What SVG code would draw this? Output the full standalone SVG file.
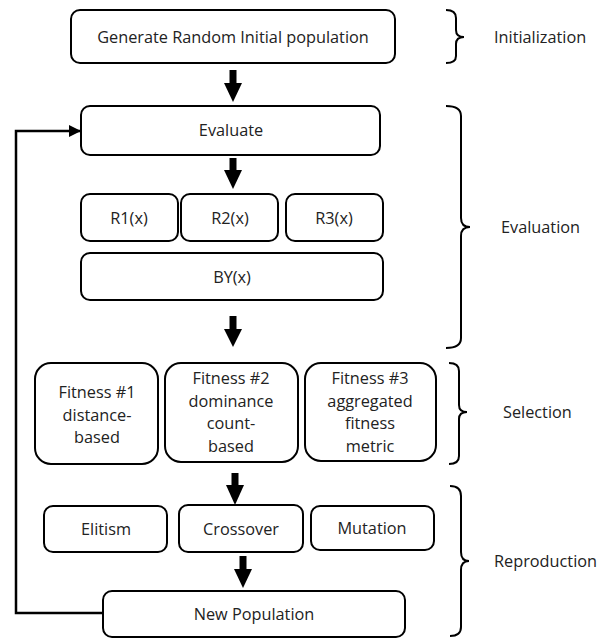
<svg xmlns="http://www.w3.org/2000/svg" width="600" height="639" viewBox="0 0 600 639">
<defs>
<style>
.box{fill:#fff;stroke:#000;stroke-width:2}
.t{font-family:"Open Sans","Liberation Sans",sans-serif;font-size:16.3px;fill:#222;text-anchor:middle;dominant-baseline:central}
.lbl{font-family:"Open Sans","Liberation Sans",sans-serif;font-size:16.3px;fill:#222;dominant-baseline:central}
.shaft{stroke:#000;stroke-width:7;fill:none}
.head{fill:#000}
.brace{fill:none;stroke:#000;stroke-width:2}
.line{fill:none;stroke:#000;stroke-width:2.5}
</style>
<marker id="ah" markerWidth="12" markerHeight="12" refX="11" refY="6" orient="auto" markerUnits="userSpaceOnUse">
<path d="M0,0 L12,6 L0,12 z" fill="#000"/>
</marker>
</defs>
<rect width="600" height="639" fill="#fff"/>

<g id="connectors">
<path class="shaft" d="M233,70 V84"/><path class="head" d="M224,83 L242,83 L233,102 z"/>
<path class="shaft" d="M233,158 V171"/><path class="head" d="M224,170 L242,170 L233,189 z"/>
<path class="shaft" d="M233,316 V330"/><path class="head" d="M224,329 L242,329 L233,347 z"/>
<path class="shaft" d="M235,473 V486"/><path class="head" d="M226,485 L244,485 L235,505 z"/>
<path class="shaft" d="M243,556 V570"/><path class="head" d="M234,569 L252,569 L243,588 z"/>
<path class="line" d="M103,613 H16 V131 H80" marker-end="url(#ah)"/>
</g>

<g id="n-init"><rect class="box" x="71" y="10" width="324" height="53" rx="9"/><text class="t" x="233" y="37">Generate Random Initial population</text></g>
<g id="n-evaluate"><rect class="box" x="81" y="106" width="299" height="49" rx="9"/><text class="t" x="231" y="130">Evaluate</text></g>
<g id="n-r1"><rect class="box" x="81" y="194" width="97" height="47" rx="9"/><text class="t" x="129" y="218">R1(x)</text></g>
<g id="n-r2"><rect class="box" x="181" y="194" width="97" height="47" rx="9"/><text class="t" x="230" y="218">R2(x)</text></g>
<g id="n-r3"><rect class="box" x="286" y="194" width="97" height="47" rx="9"/><text class="t" x="334" y="218">R3(x)</text></g>
<g id="n-by"><rect class="box" x="81" y="253" width="302" height="47" rx="9"/><text class="t" x="232" y="277">BY(x)</text></g>
<g id="n-f1"><rect class="box" x="35" y="363" width="123" height="101" rx="16"/><text class="t" x="97" y="392">Fitness #1</text><text class="t" x="97" y="414.5">distance-</text><text class="t" x="97" y="437">based</text></g>
<g id="n-f2"><rect class="box" x="165" y="363" width="133" height="99" rx="16"/><text class="t" x="231" y="378">Fitness #2</text><text class="t" x="231" y="400.5">dominance</text><text class="t" x="231" y="423">count-</text><text class="t" x="231" y="445.5">based</text></g>
<g id="n-f3"><rect class="box" x="305" y="363" width="131" height="98" rx="16"/><text class="t" x="370" y="378">Fitness #3</text><text class="t" x="370" y="400.5">aggregated</text><text class="t" x="370" y="423">fitness</text><text class="t" x="370" y="445.5">metric</text></g>
<g id="n-elitism"><rect class="box" x="44" y="506" width="123" height="46" rx="9"/><text class="t" x="106" y="529">Elitism</text></g>
<g id="n-crossover"><rect class="box" x="179" y="505" width="124" height="47" rx="9"/><text class="t" x="241" y="529">Crossover</text></g>
<g id="n-mutation"><rect class="box" x="311" y="506" width="123" height="44" rx="9"/><text class="t" x="372" y="528">Mutation</text></g>
<g id="n-newpop"><rect class="box" x="103" y="591" width="302" height="46" rx="9"/><text class="t" x="254" y="614">New Population</text></g>

<g id="braces">
<path class="brace" d="M446,10 Q456,10 456,18 V30 Q456,37 464,37 Q456,37 456,44 V56 Q456,63 446,63"/>
<text class="lbl" x="494" y="37">Initialization</text>
<path class="brace" d="M446,106 Q461,106 461,116 V218 Q461,227 470,227 Q461,227 461,236 V338 Q461,348 446,348"/>
<text class="lbl" x="501" y="227">Evaluation</text>
<path class="brace" d="M449,363 Q459,363 459,371 V405 Q459,412 467,412 Q459,412 459,419 V456 Q459,464 449,464"/>
<text class="lbl" x="503" y="412">Selection</text>
<path class="brace" d="M450,486 Q461,486 461,496 V552 Q461,561 469,561 Q461,561 461,570 V627 Q461,636 450,636"/>
<text class="lbl" x="494" y="561">Reproduction</text>
</g>
</svg>
